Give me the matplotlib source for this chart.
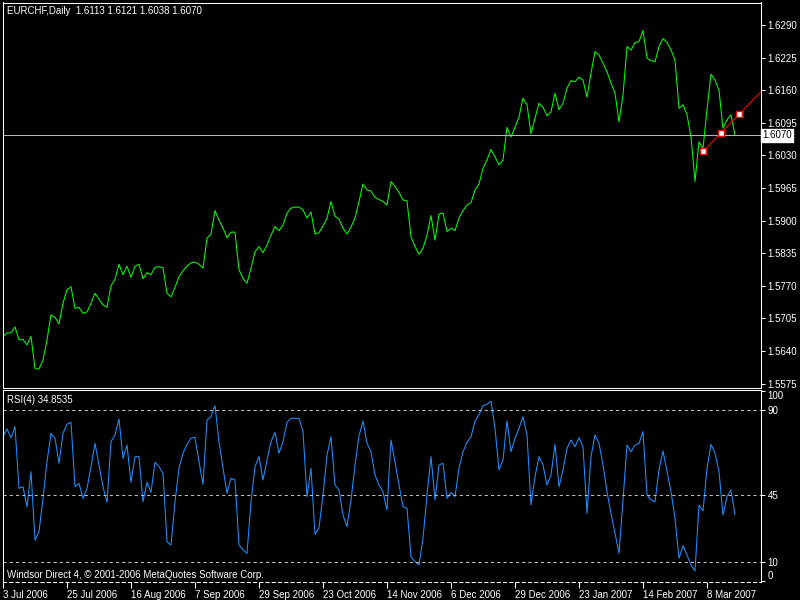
import matplotlib
matplotlib.use('Agg')
import matplotlib.pyplot as plt

# EURCHF daily closes, bar 0 = 3 Jul 2006
close = [
    1.5669, 1.5676, 1.5676, 1.5688, 1.5662, 1.5663, 1.5652, 1.5669, 1.5605, 1.5604,
    1.5622, 1.5662, 1.5712, 1.5707, 1.5694, 1.5735, 1.5762, 1.5768, 1.5725, 1.5727,
    1.5715, 1.5718, 1.5735, 1.5755, 1.5743, 1.5732, 1.5727, 1.5770, 1.5783, 1.5813,
    1.5792, 1.5809, 1.5787, 1.5809, 1.5813, 1.5784, 1.5796, 1.5792, 1.5807, 1.5808,
    1.5806, 1.5755, 1.5748, 1.5767, 1.5788, 1.5800, 1.5809, 1.5816, 1.5817, 1.5813,
    1.5805, 1.5865, 1.5873, 1.5920, 1.5901, 1.5885, 1.5866, 1.5877, 1.5877, 1.5802,
    1.5785, 1.5775, 1.5805, 1.5838, 1.5848, 1.5836, 1.5851, 1.5871, 1.5888, 1.5880,
    1.5891, 1.5915, 1.5925, 1.5927, 1.5927, 1.5921, 1.5905, 1.5917, 1.5873, 1.5876,
    1.5889, 1.5905, 1.5938, 1.5909, 1.5903, 1.5885, 1.5873, 1.5887, 1.5905, 1.5938,
    1.5973, 1.5961, 1.5959, 1.5946, 1.5942, 1.5938, 1.5931, 1.5978, 1.5968, 1.5956,
    1.5941, 1.5939, 1.5868, 1.5848, 1.5833, 1.5845, 1.5871, 1.5910, 1.5861, 1.5913,
    1.5915, 1.5878, 1.5885, 1.5880, 1.5905, 1.5920, 1.5931, 1.5936, 1.5961, 1.5973,
    1.6004, 1.6021, 1.6042, 1.6027, 1.6011, 1.6021, 1.6086, 1.6067, 1.6086, 1.6107,
    1.6144, 1.6131, 1.6073, 1.6104, 1.6134, 1.6126, 1.6109, 1.6117, 1.6154, 1.6121,
    1.6134, 1.6164, 1.6179, 1.6177, 1.6186, 1.6180, 1.6146, 1.6194, 1.6237, 1.6230,
    1.6214, 1.6197, 1.6174, 1.6154, 1.6097, 1.6150, 1.6247, 1.6240, 1.6255, 1.6257,
    1.6279, 1.6224, 1.6219, 1.6217, 1.6247, 1.6263, 1.6255, 1.6240, 1.6220, 1.6124,
    1.6131, 1.6111, 1.6067, 1.5978, 1.6057, 1.6044, 1.6121, 1.6192, 1.6180, 1.6160,
    1.6084, 1.6101, 1.6111, 1.6070,
]

rsi = [
    75.9, 80.0, 75.4, 81.2, 48.7, 49.5, 39.0, 57.5, 21.4, 25.8,
    43.4, 62.7, 77.7, 75.1, 61.9, 77.7, 82.5, 83.5, 49.5, 51.3,
    43.4, 48.7, 60.1, 72.4, 61.0, 49.5, 41.3, 73.3, 76.8, 85.3,
    64.5, 71.5, 51.9, 65.4, 65.4, 41.6, 51.9, 46.6, 62.4, 60.1,
    56.6, 20.5, 18.8, 41.6, 59.3, 67.2, 71.9, 75.1, 75.6, 62.7,
    50.8, 84.7, 86.5, 92.3, 73.3, 59.3, 46.1, 54.0, 53.1, 18.8,
    16.2, 14.4, 41.6, 60.1, 65.4, 53.1, 63.6, 73.3, 78.2, 67.2,
    73.3, 83.5, 85.6, 85.6, 85.6, 78.6, 44.3, 59.3, 24.4, 27.9,
    45.2, 66.3, 75.9, 50.4, 47.8, 34.6, 28.5, 42.5, 61.0, 76.4,
    84.2, 72.4, 68.0, 55.7, 50.4, 46.9, 37.3, 74.2, 62.7, 50.4,
    39.0, 38.2, 12.6, 10.0, 8.3, 22.3, 45.2, 65.4, 42.5, 61.0,
    61.9, 43.4, 46.6, 44.3, 59.3, 68.0, 73.0, 75.9, 84.2, 87.4,
    92.3, 93.0, 94.7, 80.3, 58.4, 63.6, 84.2, 68.0, 75.1, 80.3,
    86.5, 76.8, 39.9, 54.8, 65.4, 61.0, 50.4, 55.7, 71.9, 49.5,
    58.4, 69.8, 74.2, 70.6, 75.4, 70.6, 35.5, 65.4, 76.8, 72.4,
    61.0, 46.9, 35.5, 25.0, 14.4, 42.5, 71.5, 68.0, 71.5, 72.4,
    78.6, 45.2, 42.5, 41.6, 58.4, 68.4, 57.5, 46.9, 32.9, 11.8,
    18.4, 13.5, 8.3, 5.1, 39.9, 36.7, 59.3, 71.9, 67.2, 57.5,
    34.6, 44.3, 47.8, 34.85,
]

date_labels = ['3 Jul 2006', '25 Jul 2006', '16 Aug 2006', '7 Sep 2006', '29 Sep 2006',
               '23 Oct 2006', '14 Nov 2006', '6 Dec 2006', '29 Dec 2006', '23 Jan 2007',
               '14 Feb 2007', '8 Mar 2007']
label_bars = [0, 16, 32, 48, 64, 80, 96, 112, 128, 144, 160, 176]

price_ticks = [1.5575, 1.5640, 1.5705, 1.5770, 1.5835, 1.5900,
               1.5965, 1.6030, 1.6095, 1.6160, 1.6225, 1.6290]
rsi_ticks = [0, 10, 45, 90, 100]
rsi_levels = [10, 45, 90]

last_price = 1.6070
trend_bars = [175, 184]
trend_prices = [1.6038, 1.6112]

header = 'EURCHF,Daily  1.6113 1.6121 1.6038 1.6070'
rsi_title = 'RSI(4) 34.8535'
footer = 'Windsor Direct 4, \u00a9 2001-2006 MetaQuotes Software Corp.'

FONT = 'Liberation Sans'
FS = 7
LW = 0.75
W, H = 800, 600

fig = plt.figure(figsize=(8, 6), dpi=100, facecolor='black')


def px_axes(left, top, right, bottom):
    return fig.add_axes([left / W, 1 - bottom / H, (right - left) / W, (bottom - top) / H])


ax = px_axes(2.5, 2.5, 760.5, 387.5)
ax2 = px_axes(2.5, 390, 760.5, 581.5)

for a in (ax, ax2):
    a.set_facecolor('black')
    for s in a.spines.values():
        s.set_color('white')
        s.set_linewidth(LW)
    a.set_xlim(-0.125, 189.375)
    a.yaxis.tick_right()
    a.tick_params(axis='y', colors='white', length=3, width=LW, pad=2, labelsize=FS)

bars = list(range(len(close)))

# price panel
ax.plot(bars, close, color='#00ff00', lw=LW)
ax.axhline(last_price, color='#b4b4b4', lw=LW)
ax.set_ylim(1.55672, 1.63349)
ax.set_yticks(price_ticks)
ax.set_yticklabels(['%.4f' % p for p in price_ticks], fontfamily=FONT, fontsize=FS)
ax.set_xticks([])

# trend line drawn as a ray to the right edge, with its three handles
slope = (trend_prices[1] - trend_prices[0]) / (trend_bars[1] - trend_bars[0])
x_end = ax.get_xlim()[1]
ax.plot([trend_bars[0], x_end], [trend_prices[0], trend_prices[0] + slope * (x_end - trend_bars[0])],
        color='red', lw=LW)
mid_bar = (trend_bars[0] + trend_bars[1]) / 2
mid_price = (trend_prices[0] + trend_prices[1]) / 2
ax.plot([trend_bars[0], mid_bar, trend_bars[1]], [trend_prices[0], mid_price, trend_prices[1]],
        ls='none', marker='s', ms=4, mfc='white', mec='red', mew=1)

ax.text(1.0025, last_price, '%.4f' % last_price, transform=ax.get_yaxis_transform(),
        color='black', fontsize=FS, fontfamily=FONT, va='center', ha='left',
        bbox=dict(boxstyle='square,pad=0.15', fc='white', ec='white'))
ax.text(4.5 / 758, 1 - 8 / 385, header, transform=ax.transAxes, color='white',
        fontsize=FS, fontfamily=FONT, va='center', ha='left')

# RSI panel
ax2.plot(bars, rsi, color='#1e90ff', lw=LW)
for lvl in rsi_levels:
    ax2.axhline(lvl, color='#c0c0c0', lw=LW, dashes=(3, 3))
ax2.spines['bottom'].set_linestyle((0, (3, 3)))
ax2.set_ylim(-0.45, 100.55)
ax2.set_yticks(rsi_ticks)
ax2.set_yticklabels([str(v) for v in rsi_ticks], fontfamily=FONT, fontsize=FS)
labs = ax2.get_yticklabels()
labs[0].set_va('bottom')
labs[-1].set_va('top')

ax2.set_xticks(label_bars)
ax2.set_xticklabels(date_labels, fontfamily=FONT, fontsize=FS, ha='left')
ax2.tick_params(axis='x', colors='white', length=4, width=LW, pad=2)

ax2.text(4.5 / 758, 1 - 10 / 191.5, rsi_title, transform=ax2.transAxes, color='white',
         fontsize=FS, fontfamily=FONT, va='center', ha='left')
ax2.text(4.5 / 758, 7 / 191.5, footer, transform=ax2.transAxes, color='white',
         fontsize=FS, fontfamily=FONT, va='center', ha='left')

fig.savefig('out.png', dpi=100, facecolor='black')
